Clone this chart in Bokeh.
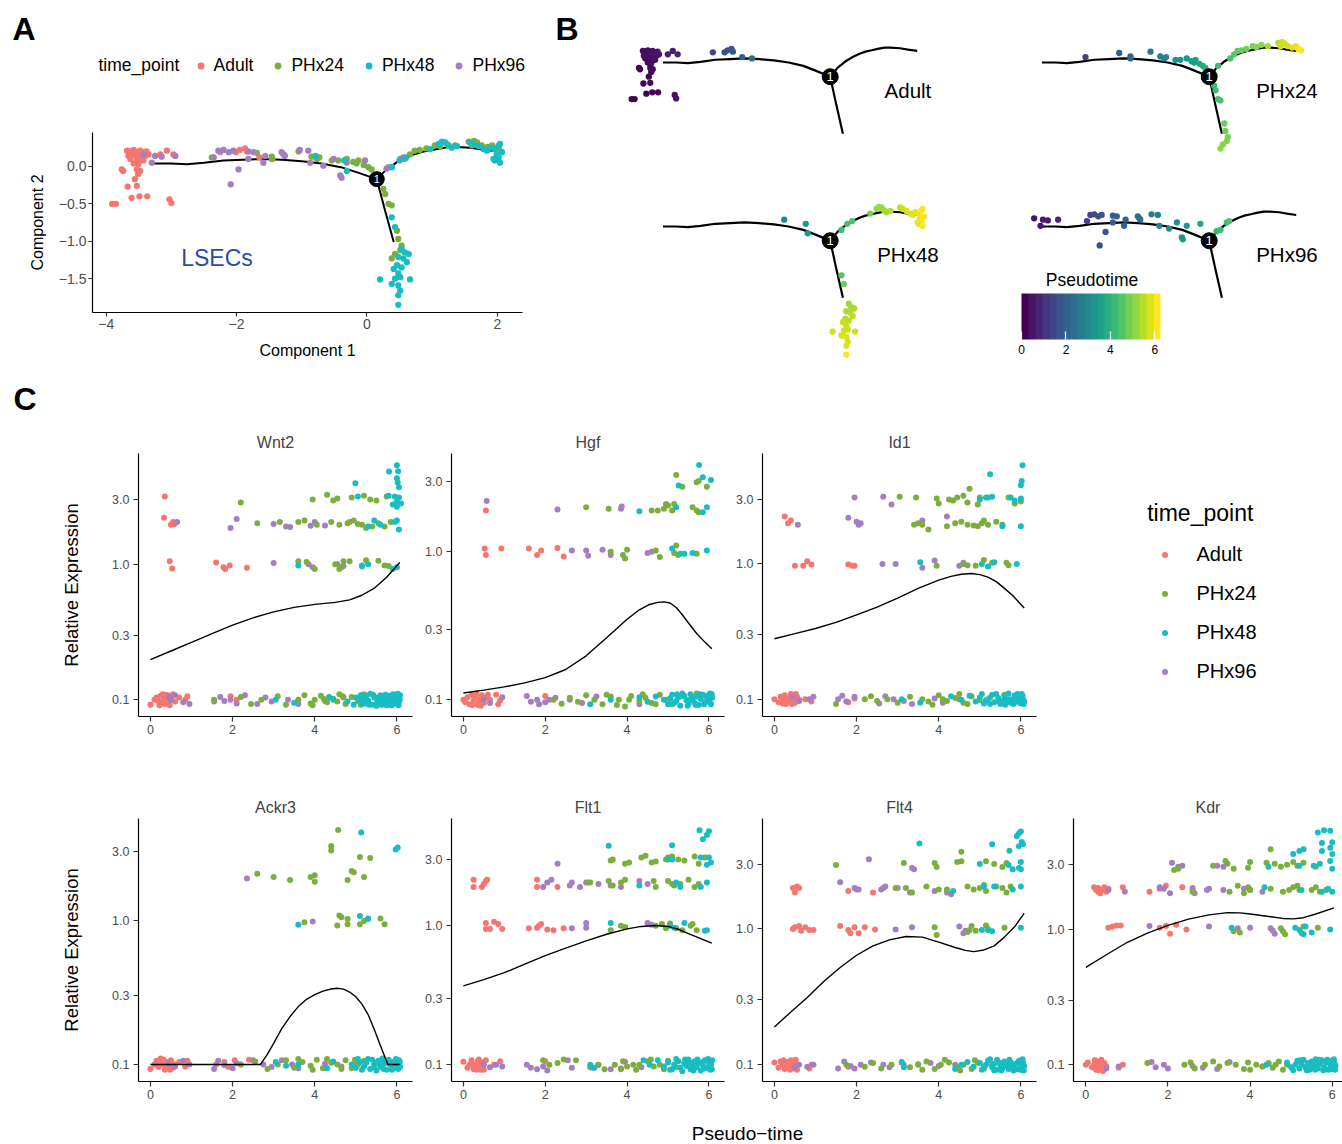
from bokeh.plotting import figure
from bokeh.models import (ColumnDataSource, Range1d, Label, Legend, LegendItem, ColorBar,
                          LinearColorMapper, FixedTicker, CustomJSTickFormatter)
from bokeh.layouts import row, column
from bokeh.palettes import Viridis256, viridis
from bokeh.transform import linear_cmap
from bokeh.core.properties import value
from bokeh.embed import file_html
from bokeh.resources import INLINE

FONT = "Liberation Sans"
TIME_POINTS = ["Adult", "PHx24", "PHx48", "PHx96"]
TP_COLORS = {"Adult": "#F5766F", "PHx24": "#7BAE3C", "PHx48": "#17BDC3", "PHx96": "#A57EC2"}

# ---------------------------------------------------------------------------
# Panel A/B: cells in the reduced space (component 1, component 2, pseudotime)
# ---------------------------------------------------------------------------
CELLS_ADULT = [
    (-3.68, 0.21, 0.20), (-3.63, 0.20, 0.22), (-3.58, 0.22, 0.25), (-3.53, 0.19, 0.27), (-3.48, 0.21, 0.30),
    (-3.43, 0.19, 0.33), (-3.38, 0.20, 0.36), (-3.66, 0.14, 0.18), (-3.61, 0.15, 0.22), (-3.56, 0.16, 0.25),
    (-3.51, 0.13, 0.28), (-3.45, 0.15, 0.31), (-3.40, 0.14, 0.34), (-3.35, 0.16, 0.37), (-3.63, 0.10, 0.16),
    (-3.53, 0.10, 0.22), (-3.48, 0.08, 0.24), (-3.43, 0.08, 0.27), (-3.58, 0.04, 0.15), (-3.51, 0.03, 0.18),
    (-3.76, -0.04, 0.10), (-3.74, -0.06, 0.10), (-3.53, -0.04, 0.14), (-3.48, -0.06, 0.15), (-3.51, -0.10, 0.12),
    (-3.56, -0.17, 0.10), (-3.53, -0.26, 0.08), (-3.67, -0.27, 0.06), (-3.61, -0.42, 0.05), (-3.49, -0.40, 0.06),
    (-3.37, -0.40, 0.08), (-3.91, -0.50, 0.00), (-3.85, -0.50, 0.02), (-3.03, -0.44, 0.30), (-3.00, -0.49, 0.32),
    (-3.07, 0.21, 0.55), (-2.97, 0.16, 0.62), (-3.17, 0.16, 0.48), (-2.25, 0.19, 1.30), (-2.01, 0.19, 1.55),
    (-1.95, 0.22, 1.60), (-1.87, 0.24, 1.68), (-1.84, 0.20, 1.72), (-1.65, 0.12, 1.95), (-1.45, 0.10, 2.15),
]
CELLS_PHX24 = [
    (-2.38, 0.12, 1.2), (-1.69, 0.18, 1.9), (-1.46, 0.13, 2.1), (-1.46, 0.10, 2.1), (-1.05, 0.20, 2.5),
    (-0.85, 0.13, 2.7), (-0.77, 0.10, 2.8), (-0.73, 0.12, 2.9), (-0.54, 0.08, 3.1), (-0.44, 0.08, 3.2),
    (-0.31, 0.10, 3.3), (-0.21, 0.06, 3.5), (-0.16, 0.04, 3.5), (-0.13, 0.08, 3.6), (-0.05, 0.02, 3.7),
    (0.02, -0.01, 3.8), (0.07, -0.04, 3.9), (0.25, -0.30, 4.2), (0.28, -0.37, 4.3), (0.33, -0.50, 4.4),
    (0.38, -0.52, 4.5), (0.46, -0.86, 4.8), (0.48, -0.97, 4.9), (0.53, -1.06, 5.0), (0.43, -1.17, 5.1),
    (0.38, -1.23, 5.2), (0.51, -1.12, 5.1), (0.33, -0.01, 4.3), (0.58, 0.10, 4.5), (0.66, 0.16, 4.6),
    (0.73, 0.21, 4.7), (0.81, 0.22, 4.8), (0.91, 0.24, 4.9), (1.04, 0.28, 5.0), (1.12, 0.27, 5.1),
    (1.22, 0.30, 5.2), (1.35, 0.28, 5.4), (1.56, 0.33, 5.6), (1.64, 0.34, 5.7), (1.61, 0.28, 5.7),
    (1.69, 0.32, 5.8), (1.76, 0.28, 5.8), (1.85, 0.26, 6.0), (1.92, 0.28, 6.0), (1.97, 0.24, 6.1),
    (2.03, 0.22, 6.2),
]
CELLS_PHX48 = [
    (-0.79, 0.14, 2.9), (-0.35, 0.08, 3.3), (-0.31, -0.06, 3.3), (0.38, -0.01, 4.3), (0.50, 0.08, 4.4),
    (0.60, 0.12, 4.5), (0.38, -0.68, 4.6), (0.43, -0.81, 4.8), (0.53, -1.10, 5.3), (0.58, -1.15, 5.4),
    (0.64, -1.17, 5.4), (0.48, -1.21, 5.5), (0.56, -1.23, 5.5), (0.61, -1.28, 5.6), (0.46, -1.32, 5.6),
    (0.53, -1.35, 5.6), (0.41, -1.37, 5.7), (0.48, -1.43, 5.7), (0.43, -1.50, 5.8), (0.51, -1.48, 5.8),
    (0.20, -1.51, 5.8), (0.66, -1.51, 5.8), (0.38, -1.57, 5.9), (0.48, -1.59, 5.9), (0.51, -1.66, 5.9),
    (0.48, -1.72, 6.0), (0.48, -1.85, 6.2), (0.97, 0.23, 5.0), (1.10, 0.30, 5.2), (1.15, 0.33, 5.3),
    (1.20, 0.32, 5.3), (1.25, 0.28, 5.4), (1.30, 0.25, 5.4), (1.38, 0.27, 5.5), (1.58, 0.32, 5.7),
    (1.63, 0.30, 5.8), (1.71, 0.27, 5.9), (1.79, 0.23, 5.9), (1.84, 0.21, 6.0), (1.89, 0.25, 6.0),
    (1.96, 0.23, 6.1), (2.02, 0.28, 6.2), (2.04, 0.30, 6.2), (1.99, 0.16, 6.1), (2.02, 0.12, 6.2),
    (1.96, 0.08, 6.1), (2.04, 0.05, 6.2), (2.07, 0.19, 6.2), (1.94, 0.10, 6.1),
]
CELLS_PHX96 = [
    (-3.43, 0.16, 0.25), (-3.25, 0.14, 0.40), (-3.15, 0.13, 0.50), (-2.94, 0.14, 0.70), (-3.30, 0.05, 0.35),
    (-2.35, 0.12, 1.2), (-2.28, 0.21, 1.3), (-2.20, 0.22, 1.4), (-2.12, 0.19, 1.5), (-2.05, 0.21, 1.6),
    (-1.97, -0.04, 1.6), (-2.09, -0.24, 1.5), (-1.82, 0.20, 1.8), (-1.74, 0.19, 1.9), (-1.82, 0.10, 1.8),
    (-1.59, 0.05, 2.0), (-1.56, 0.14, 2.0), (-1.31, 0.19, 2.3), (-1.28, 0.16, 2.3), (-1.26, 0.14, 2.3),
    (-1.03, 0.22, 2.6), (-0.90, 0.21, 2.7), (-0.87, 0.05, 2.8), (-0.67, 0.01, 3.0), (-0.51, 0.10, 3.1),
    (-0.41, -0.12, 3.2), (-0.39, -0.15, 3.3), (-0.31, 0.05, 3.3), (-0.03, 0.08, 3.7), (0.30, -0.03, 4.2),
    (0.38, -0.01, 4.3), (0.51, 0.10, 4.4), (0.56, 0.12, 4.5),
]

# principal graph: stem, upper branch, lower branch, and the branch point
TRAJ_STEM_X = [-3.27, -3.0, -2.76, -2.5, -2.2, -1.9, -1.6, -1.3, -1.0, -0.7, -0.4, -0.15, 0.15]
TRAJ_STEM_Y = [0.04, 0.04, 0.03, 0.05, 0.08, 0.09, 0.10, 0.09, 0.07, 0.04, -0.01, -0.08, -0.17]
TRAJ_UP_X = [0.15, 0.30, 0.45, 0.61, 0.75, 0.87, 1.0, 1.12, 1.26, 1.38, 1.58, 1.74, 1.93]
TRAJ_UP_Y = [-0.17, -0.04, 0.05, 0.12, 0.17, 0.20, 0.22, 0.24, 0.26, 0.26, 0.25, 0.23, 0.21]
TRAJ_LOW_X = [0.15, 0.28, 0.41]
TRAJ_LOW_Y = [-0.17, -0.60, -1.01]
BRANCH_X = [0.15]
BRANCH_Y = [-0.17]
BRANCH_ID = ["1"]

# ---------------------------------------------------------------------------
# Panel C: relative expression along pseudotime (pseudotime, expression)
# ---------------------------------------------------------------------------
WNT2_ADULT = [
    (0.35, 3.15), (0.33, 2.2), (0.5, 1.95), (0.55, 2.05), (0.58, 1.97), (0.47, 1.05), (0.53, 0.93),
    (1.6, 1.03), (1.78, 0.95), (1.82, 0.92), (1.93, 0.98), (2.35, 0.94), (0.0, 0.092), (0.1, 0.1),
    (0.15, 0.104), (0.2, 0.097), (0.25, 0.107), (0.28, 0.094), (0.3, 0.11), (0.33, 0.1), (0.35, 0.093),
    (0.38, 0.105), (0.4, 0.099), (0.42, 0.108), (0.45, 0.095), (0.5, 0.102), (0.55, 0.11), (0.6, 0.097),
    (0.7, 0.104), (0.85, 0.1), (0.9, 0.106), (1.95, 0.106), (2.1, 0.1),
    (0.22, 0.091), (0.32, 0.097), (0.37, 0.109), (0.47, 0.091), (0.52, 0.106),
]
WNT2_PHX24 = [
    (2.2, 2.85), (3.95, 3.0), (4.3, 3.25), (4.45, 2.95), (4.55, 3.05), (4.9, 3.1), (5.2, 3.2), (5.35, 3.0),
    (5.5, 2.95), (5.75, 3.15), (2.6, 2.0), (3.15, 2.05), (3.6, 2.05), (3.75, 2.1), (4.05, 1.95), (4.4, 2.05),
    (4.6, 1.95), (4.8, 2.0), (4.85, 2.05), (4.95, 2.1), (5.05, 1.98), (5.15, 1.95), (5.25, 1.85), (5.4, 1.9),
    (5.55, 2.0), (5.7, 1.9), (5.85, 2.05), (3.6, 1.05), (3.8, 1.04), (4.0, 0.92), (4.5, 1.0), (4.6, 0.92),
    (4.65, 0.95), (4.7, 1.05), (4.85, 1.05), (5.15, 0.98), (5.25, 1.07), (5.55, 1.06), (5.7, 0.98),
    (5.8, 0.97), (1.55, 0.1), (2.2, 0.105), (2.45, 0.093), (2.7, 0.1), (3.1, 0.106), (3.3, 0.092),
    (3.6, 0.1), (3.75, 0.108), (3.9, 0.094), (4.0, 0.1), (4.15, 0.107), (4.3, 0.096), (4.45, 0.102),
    (4.6, 0.11), (4.75, 0.093), (4.9, 0.105), (5.05, 0.098), (5.2, 0.11), (5.3, 0.095), (5.5, 0.104),
    (5.65, 0.092), (5.8, 0.107), (3.95, 0.091), (4.22, 0.102), (4.55, 0.097), (4.68, 0.106), (5.12, 0.092),
]
WNT2_PHX48 = [
    (4.99, 3.96), (5.81, 4.82), (6.0, 5.37), (6.03, 4.85), (6.0, 4.3), (6.02, 4.0), (6.05, 3.7),
    (5.05, 3.15), (5.8, 3.2), (5.95, 3.15), (6.0, 2.9), (6.05, 3.1), (6.1, 2.8), (5.9, 2.75), (6.0, 2.65),
    (5.3, 1.9), (5.45, 2.1), (5.6, 1.95), (6.0, 2.1), (6.05, 1.8), (5.95, 2.05), (3.6, 0.98), (5.15, 0.96),
    (5.3, 1.0), (5.9, 0.92), (6.0, 0.95), (3.05, 0.1), (3.5, 0.095), (4.35, 0.105), (4.45, 0.1),
    (4.8, 0.097), (4.95, 0.092), (5.0, 0.104), (5.1, 0.1), (5.15, 0.093), (5.2, 0.102), (5.25, 0.107),
    (5.3, 0.099), (5.35, 0.111), (5.4, 0.092), (5.45, 0.104), (5.5, 0.09), (5.55, 0.1), (5.6, 0.108),
    (5.65, 0.095), (5.7, 0.102), (5.75, 0.091), (5.8, 0.106), (5.85, 0.099), (5.88, 0.091), (5.9, 0.11),
    (5.95, 0.094), (6.0, 0.103), (6.02, 0.111), (6.05, 0.097), (6.08, 0.108),
    (5.12, 0.108), (5.22, 0.094), (5.32, 0.092), (5.42, 0.109), (5.52, 0.097), (5.62, 0.092),
    (5.72, 0.109), (5.78, 0.098), (5.83, 0.092), (5.92, 0.101), (5.98, 0.109), (6.04, 0.091),
    (6.07, 0.1), (5.58, 0.103), (5.68, 0.097),
]
WNT2_PHX96 = [
    (0.65, 2.05), (1.95, 1.85), (2.1, 2.15), (3.0, 1.98), (3.3, 1.9), (3.4, 1.88), (3.9, 1.92), (4.0, 2.05),
    (4.25, 1.93), (3.0, 1.02), (3.85, 1.0), (3.95, 0.95), (4.55, 1.0), (4.7, 0.97), (0.45, 0.105),
    (0.5, 0.1), (0.6, 0.108), (0.8, 0.096), (0.95, 0.093), (1.55, 0.097), (1.7, 0.105), (1.8, 0.098),
    (1.95, 0.1), (2.1, 0.094), (2.3, 0.108), (2.6, 0.093), (2.8, 0.104), (2.95, 0.097), (3.35, 0.1),
    (3.6, 0.093), (4.25, 0.098), (4.7, 0.104), (5.1, 0.1),
]
WNT2_FIT = [(0.0, 0.198), (0.5, 0.229), (1.0, 0.265), (1.5, 0.308), (2.0, 0.355), (2.5, 0.402), (3.0, 0.445),
            (3.5, 0.48), (4.0, 0.505), (4.5, 0.523), (4.85, 0.545), (5.15, 0.59), (5.45, 0.665), (5.75, 0.8),
            (6.07, 1.03)]

HGF_ADULT = [
    (0.55, 1.9), (0.52, 1.05), (0.55, 0.95), (0.93, 1.05), (1.6, 1.05), (1.8, 0.95), (1.9, 1.02),
    (2.3, 1.06), (2.45, 0.93), (0.0, 0.1), (0.05, 0.096), (0.1, 0.104), (0.15, 0.093), (0.2, 0.108),
    (0.25, 0.099), (0.3, 0.105), (0.35, 0.092), (0.4, 0.1), (0.45, 0.107), (0.5, 0.095), (0.55, 0.104),
    (0.65, 0.1), (0.8, 0.108), (0.85, 0.093), (0.9, 0.099), (2.0, 0.106),
    (0.22, 0.092), (0.32, 0.11), (0.38, 0.096), (0.42, 0.091), (0.6, 0.108),
]
HGF_PHX24 = [
    (5.2, 3.3), (5.35, 2.75), (5.7, 2.95), (5.75, 3.0), (5.95, 2.75), (3.0, 2.0), (3.55, 1.95), (4.6, 1.9),
    (4.75, 1.9), (4.9, 1.95), (4.95, 2.1), (5.0, 2.05), (5.1, 1.9), (5.15, 2.1), (5.6, 2.0), (5.7, 1.9),
    (5.75, 1.85), (3.6, 1.0), (3.9, 0.95), (3.95, 0.9), (4.0, 1.03), (4.7, 1.02), (4.8, 0.92), (5.15, 0.98),
    (5.2, 1.1), (5.25, 0.95), (5.7, 0.97), (2.2, 0.1), (2.4, 0.094), (2.6, 0.103), (2.8, 0.097),
    (3.0, 0.107), (3.2, 0.1), (3.4, 0.093), (3.6, 0.105), (3.8, 0.1), (3.95, 0.09), (4.1, 0.106),
    (4.3, 0.098), (4.45, 0.103), (4.6, 0.095), (4.8, 0.108), (4.95, 0.1), (5.1, 0.093), (5.3, 0.105),
    (5.5, 0.099), (5.7, 0.11), (3.5, 0.108), (3.75, 0.092), (4.05, 0.1), (4.38, 0.109), (4.7, 0.093),
]
HGF_PHX48 = [
    (5.76, 3.85), (5.85, 3.18), (6.05, 3.05), (5.26, 2.8), (4.3, 1.88), (5.2, 2.0), (5.85, 1.85),
    (5.95, 2.0), (5.1, 1.05), (5.3, 0.97), (5.4, 0.97), (5.6, 0.98), (5.95, 1.02), (3.1, 0.093), (3.6, 0.1),
    (4.3, 0.104), (4.5, 0.097), (4.7, 0.105), (4.9, 0.1), (5.0, 0.093), (5.1, 0.108), (5.2, 0.098),
    (5.25, 0.104), (5.3, 0.091), (5.4, 0.106), (5.45, 0.099), (5.5, 0.094), (5.55, 0.109), (5.6, 0.1),
    (5.65, 0.095), (5.7, 0.105), (5.75, 0.092), (5.8, 0.101), (5.85, 0.108), (5.9, 0.096), (5.95, 0.104),
    (6.0, 0.099), (6.03, 0.11), (6.05, 0.093), (6.08, 0.103),
    (5.05, 0.102), (5.15, 0.095), (5.35, 0.11), (5.48, 0.091), (5.58, 0.104), (5.68, 0.092),
    (5.78, 0.109), (5.88, 0.093), (5.98, 0.107), (6.02, 0.096), (6.07, 0.109), (5.22, 0.109),
]
HGF_PHX96 = [
    (0.57, 2.2), (2.3, 1.93), (3.85, 1.95), (3.87, 2.02), (2.65, 1.02), (3.0, 1.02), (3.05, 0.94),
    (3.4, 1.03), (3.6, 0.95), (4.5, 0.98), (4.6, 1.0), (0.5, 0.1), (0.65, 0.095), (0.95, 0.104),
    (1.55, 0.106), (1.65, 0.097), (1.8, 0.1), (1.85, 0.093), (2.0, 0.096), (2.1, 0.1), (2.25, 0.103),
    (2.6, 0.1), (2.9, 0.095), (3.25, 0.105), (4.3, 0.093), (5.0, 0.1),
]
HGF_FIT = [(0.0, 0.111), (0.5, 0.116), (1.0, 0.122), (1.5, 0.13), (2.0, 0.141), (2.5, 0.16), (3.0, 0.198),
           (3.5, 0.262), (4.0, 0.35), (4.3, 0.405), (4.55, 0.44), (4.75, 0.455), (4.9, 0.458), (5.05, 0.45),
           (5.2, 0.42), (5.35, 0.375), (5.5, 0.33), (5.7, 0.28), (5.9, 0.245), (6.07, 0.221)]

ID1_ADULT = [
    (0.25, 2.25), (0.33, 2.0), (0.4, 2.1), (0.5, 0.97), (0.7, 0.97), (0.8, 1.05), (0.9, 0.99), (1.8, 0.99),
    (1.9, 0.97), (1.95, 0.97), (0.0, 0.1), (0.1, 0.095), (0.15, 0.104), (0.2, 0.093), (0.25, 0.107),
    (0.3, 0.1), (0.35, 0.096), (0.4, 0.109), (0.45, 0.1), (0.5, 0.094), (0.55, 0.104), (0.6, 0.099),
    (0.75, 0.1), (0.9, 0.096), (1.8, 0.095), (1.95, 0.101),
    (0.22, 0.1), (0.28, 0.092), (0.38, 0.104), (0.43, 0.092), (0.52, 0.109),
]
ID1_PHX24 = [
    (3.05, 3.15), (3.45, 3.1), (3.95, 3.05), (4.0, 2.8), (4.25, 3.0), (4.35, 2.95), (4.45, 3.1), (4.6, 3.2),
    (4.7, 2.85), (4.75, 3.6), (4.95, 2.75), (5.0, 3.1), (5.2, 3.1), (5.7, 3.1), (5.85, 2.8), (6.0, 2.9),
    (3.4, 1.95), (3.5, 2.0), (3.6, 1.95), (3.75, 1.8), (4.2, 1.9), (4.4, 2.0), (4.55, 2.05), (4.7, 1.95),
    (4.85, 1.93), (4.95, 1.9), (5.05, 2.0), (5.1, 2.1), (5.2, 1.95), (5.4, 2.05), (5.55, 1.95),
    (3.95, 0.97), (4.6, 1.0), (4.7, 0.98), (4.9, 0.97), (5.1, 1.07), (5.3, 1.02), (5.65, 1.02), (5.7, 0.98),
    (1.5, 0.092), (2.2, 0.1), (2.35, 0.105), (2.5, 0.097), (2.75, 0.1), (3.0, 0.094), (3.3, 0.104),
    (3.6, 0.1), (3.75, 0.096), (4.0, 0.107), (4.2, 0.097), (4.4, 0.102), (4.6, 0.094), (4.8, 0.105),
    (5.0, 0.098), (5.25, 0.103), (5.45, 0.096), (5.6, 0.108), (3.85, 0.091), (4.1, 0.1), (4.5, 0.109),
    (4.7, 0.092),
]
ID1_PHX48 = [
    (5.25, 4.61), (6.04, 5.38), (6.02, 4.12), (6.0, 3.83), (5.0, 3.0), (5.15, 3.1), (5.3, 3.15),
    (5.75, 3.1), (5.85, 2.95), (6.0, 3.05), (5.55, 1.9), (6.0, 1.9), (3.55, 1.03), (5.05, 1.0), (5.2, 0.96),
    (5.35, 1.03), (5.9, 1.0), (3.1, 0.1), (3.55, 0.094), (4.3, 0.105), (4.55, 0.099), (4.75, 0.106),
    (4.9, 0.096), (5.0, 0.103), (5.1, 0.093), (5.2, 0.1), (5.3, 0.108), (5.35, 0.095), (5.45, 0.102),
    (5.5, 0.092), (5.6, 0.105), (5.65, 0.098), (5.7, 0.11), (5.75, 0.094), (5.8, 0.1), (5.85, 0.107),
    (5.9, 0.097), (5.95, 0.103), (6.0, 0.093), (6.02, 0.109), (6.05, 0.1), (6.08, 0.096),
    (5.05, 0.109), (5.15, 0.098), (5.25, 0.092), (5.4, 0.109), (5.55, 0.097), (5.62, 0.091),
    (5.72, 0.1), (5.82, 0.092), (5.92, 0.109), (5.97, 0.094), (6.04, 0.106), (6.07, 0.092),
]
ID1_PHX96 = [
    (1.95, 3.1), (2.65, 3.15), (2.85, 2.75), (0.57, 1.95), (1.8, 2.2), (2.0, 2.05), (2.05, 1.95), (2.1, 2.0),
    (3.6, 2.1), (4.2, 2.25), (2.63, 1.0), (2.95, 1.0), (3.6, 0.94), (3.9, 1.06), (4.5, 0.97), (4.6, 1.02),
    (0.45, 0.104), (0.6, 0.097), (0.85, 0.1), (0.95, 0.104), (1.55, 0.1), (1.65, 0.106), (1.75, 0.096),
    (1.95, 0.104), (2.55, 0.093), (2.7, 0.105), (2.9, 0.1), (3.15, 0.097), (3.35, 0.092), (3.9, 0.101),
    (4.1, 0.094), (4.5, 0.1),
]
ID1_FIT = [(0.0, 0.28), (0.5, 0.305), (1.0, 0.333), (1.5, 0.37), (2.0, 0.42), (2.5, 0.48), (3.0, 0.56),
           (3.5, 0.66), (4.0, 0.76), (4.3, 0.81), (4.55, 0.84), (4.8, 0.85), (5.0, 0.835), (5.2, 0.8),
           (5.4, 0.74), (5.6, 0.66), (5.8, 0.585), (6.08, 0.472)]

ACKR3_ADULT = [
    (0.0, 0.093), (0.1, 0.1), (0.15, 0.106), (0.2, 0.096), (0.25, 0.11), (0.3, 0.1), (0.35, 0.092),
    (0.4, 0.104), (0.45, 0.098), (0.5, 0.107), (0.55, 0.095), (0.6, 0.1), (0.7, 0.104), (0.85, 0.097),
    (0.9, 0.106), (1.6, 0.1), (1.8, 0.104), (1.9, 0.096), (2.05, 0.107), (2.2, 0.1), (2.4, 0.108),
    (0.22, 0.103), (0.32, 0.108), (0.38, 0.094), (0.48, 0.092), (0.52, 0.102),
]
ACKR3_PHX24 = [
    (4.57, 4.22), (4.4, 3.28), (4.4, 3.05), (5.1, 2.75), (5.35, 2.7), (2.6, 2.1), (3.0, 2.0), (3.4, 1.9),
    (3.9, 2.0), (4.0, 2.05), (4.0, 1.85), (4.8, 1.9), (4.9, 2.2), (4.95, 2.15), (5.2, 2.0), (3.75, 0.97),
    (4.55, 0.92), (4.6, 1.08), (4.65, 1.05), (4.8, 1.02), (4.8, 0.94), (5.1, 0.94), (5.2, 0.99),
    (5.3, 1.02), (5.6, 1.03), (5.7, 0.94), (2.2, 0.1), (2.55, 0.105), (2.85, 0.093), (3.1, 0.1),
    (3.3, 0.107), (3.5, 0.095), (3.7, 0.104), (3.9, 0.098), (4.05, 0.108), (4.2, 0.094), (4.4, 0.103),
    (4.55, 0.1), (4.75, 0.107), (4.9, 0.094), (5.05, 0.1), (5.2, 0.106), (5.45, 0.096), (5.65, 0.104),
    (5.9, 0.1), (3.6, 0.109), (3.95, 0.092), (4.3, 0.109), (4.65, 0.093), (4.98, 0.108),
]
ACKR3_PHX48 = [
    (5.13, 4.06), (5.97, 3.1), (6.02, 3.2), (3.6, 0.93), (5.1, 1.07), (5.3, 1.03), (3.05, 0.104),
    (3.3, 0.098), (3.6, 0.1), (4.3, 0.094), (4.45, 0.105), (4.9, 0.1), (5.0, 0.095), (5.1, 0.104),
    (5.2, 0.097), (5.25, 0.103), (5.3, 0.109), (5.35, 0.093), (5.45, 0.1), (5.5, 0.091), (5.55, 0.106),
    (5.6, 0.096), (5.65, 0.11), (5.7, 0.102), (5.75, 0.092), (5.8, 0.108), (5.85, 0.099), (5.9, 0.104),
    (5.95, 0.094), (6.0, 0.1), (6.05, 0.107), (6.08, 0.096),
    (5.05, 0.109), (5.15, 0.092), (5.4, 0.108), (5.58, 0.101), (5.68, 0.093), (5.78, 0.102),
    (5.88, 0.092), (5.98, 0.109), (6.03, 0.093), (6.07, 0.104), (5.92, 0.098), (5.48, 0.103),
]
ACKR3_PHX96 = [
    (2.35, 1.95), (3.95, 0.98), (0.45, 0.101), (0.6, 0.097), (0.8, 0.106), (0.95, 0.1), (1.55, 0.093),
    (1.65, 0.106), (1.8, 0.099), (2.0, 0.094), (2.1, 0.102), (2.5, 0.107), (2.75, 0.1), (2.95, 0.096),
    (3.2, 0.107), (3.45, 0.1), (3.6, 0.094), (4.25, 0.101), (4.65, 0.097), (5.0, 0.1),
]
ACKR3_FIT = [(0.0, 0.1), (2.68, 0.1), (2.85, 0.118), (3.0, 0.14), (3.2, 0.178), (3.4, 0.215), (3.6, 0.252),
             (3.8, 0.283), (4.0, 0.305), (4.2, 0.323), (4.4, 0.334), (4.55, 0.338), (4.7, 0.333),
             (4.85, 0.318), (5.0, 0.295), (5.15, 0.262), (5.3, 0.222), (5.45, 0.175), (5.6, 0.135),
             (5.78, 0.1), (6.07, 0.1)]

FLT1_ADULT = [
    (0.25, 2.15), (0.25, 1.9), (0.45, 1.9), (0.5, 2.0), (0.55, 2.1), (0.58, 2.15), (1.8, 2.15), (1.8, 1.9),
    (2.3, 1.9), (0.55, 1.05), (0.55, 0.95), (0.65, 0.95), (0.75, 1.07), (0.85, 1.03), (0.95, 0.95),
    (1.6, 0.96), (1.8, 0.97), (1.85, 1.0), (1.9, 1.03), (2.05, 0.94), (2.2, 0.93), (2.45, 0.96),
    (0.0, 0.105), (0.1, 0.095), (0.15, 0.1), (0.2, 0.108), (0.25, 0.093), (0.3, 0.1), (0.35, 0.106),
    (0.4, 0.097), (0.45, 0.104), (0.5, 0.092), (0.55, 0.108), (0.75, 0.1), (0.9, 0.106), (2.0, 0.106),
    (0.22, 0.1), (0.32, 0.092), (0.38, 0.109), (0.42, 0.092), (0.48, 0.1),
]
FLT1_PHX24 = [
    (3.6, 2.95), (3.65, 3.0), (3.95, 2.8), (4.05, 2.85), (4.35, 3.1), (4.45, 3.2), (4.6, 2.85), (4.7, 2.9),
    (4.95, 3.0), (5.0, 3.1), (5.1, 3.15), (5.25, 3.0), (5.4, 2.95), (5.65, 3.15), (5.75, 2.8), (5.9, 3.1),
    (3.05, 2.05), (3.1, 2.05), (3.55, 2.1), (3.65, 1.95), (3.85, 2.05), (3.95, 2.15), (4.65, 2.1),
    (4.7, 1.9), (5.0, 2.1), (5.1, 2.0), (5.15, 1.95), (5.3, 2.0), (5.5, 2.15), (5.65, 1.9), (5.75, 2.0),
    (3.6, 0.93), (3.85, 1.0), (3.95, 0.98), (4.7, 1.0), (4.85, 1.03), (4.95, 0.96), (5.05, 1.04),
    (5.2, 0.96), (5.35, 0.93), (5.55, 1.0), (5.6, 1.03), (5.7, 0.93), (1.95, 0.108), (2.1, 0.1),
    (2.3, 0.103), (2.45, 0.109), (2.75, 0.108), (3.1, 0.096), (3.3, 0.1), (3.45, 0.093), (3.7, 0.1),
    (3.85, 0.093), (4.0, 0.097), (4.15, 0.1), (4.3, 0.1), (4.5, 0.106), (4.65, 0.097), (4.8, 0.1),
    (5.0, 0.107), (5.2, 0.096), (5.4, 0.103), (5.6, 0.099), (3.9, 0.106), (4.22, 0.092), (4.58, 0.109),
    (4.9, 0.093),
]
FLT1_PHX48 = [
    (3.55, 3.77), (5.1, 3.8), (5.77, 4.88), (6.0, 4.8), (5.85, 4.2), (5.95, 4.5), (5.0, 3.0), (5.1, 3.0),
    (5.8, 3.1), (5.95, 2.75), (6.0, 3.1), (6.05, 2.85), (4.3, 1.95), (5.2, 2.05), (5.3, 1.9), (5.8, 1.9),
    (5.95, 2.05), (3.6, 1.05), (5.05, 1.0), (5.15, 0.97), (5.4, 1.05), (5.9, 0.92), (5.95, 0.93),
    (3.1, 0.1), (3.2, 0.095), (4.4, 0.108), (4.55, 0.1), (4.75, 0.108), (4.9, 0.097), (5.0, 0.104),
    (5.1, 0.093), (5.15, 0.1), (5.25, 0.106), (5.3, 0.095), (5.4, 0.103), (5.45, 0.098), (5.5, 0.109),
    (5.55, 0.093), (5.6, 0.1), (5.65, 0.106), (5.7, 0.096), (5.75, 0.103), (5.8, 0.091), (5.85, 0.1),
    (5.9, 0.108), (5.95, 0.095), (6.0, 0.104), (6.03, 0.092), (6.05, 0.1), (6.08, 0.108),
    (5.05, 0.092), (5.2, 0.11), (5.35, 0.09), (5.52, 0.104), (5.62, 0.091), (5.72, 0.109),
    (5.82, 0.104), (5.88, 0.094), (5.98, 0.11), (6.02, 0.1), (6.07, 0.093), (5.42, 0.109),
]
FLT1_PHX96 = [
    (2.3, 2.8), (1.95, 1.9), (2.05, 2.05), (2.15, 2.15), (2.6, 1.95), (2.65, 2.05), (2.85, 1.9), (3.0, 2.05),
    (3.3, 2.0), (3.6, 1.95), (3.85, 1.9), (4.3, 2.1), (4.5, 2.0), (2.65, 0.96), (3.0, 1.05), (3.0, 0.97),
    (4.5, 1.05), (4.6, 1.02), (0.5, 0.1), (0.65, 0.096), (0.8, 0.1), (0.95, 0.097), (1.55, 0.1),
    (1.65, 0.095), (1.8, 0.093), (1.95, 0.097), (2.05, 0.091), (2.55, 0.108), (2.65, 0.095), (3.15, 0.095),
    (3.3, 0.1), (3.6, 0.093), (3.85, 0.094), (3.95, 0.105), (4.35, 0.096),
]
FLT1_FIT = [(0.0, 0.37), (0.5, 0.41), (1.0, 0.46), (1.5, 0.53), (2.0, 0.61), (2.5, 0.69), (3.0, 0.78),
            (3.5, 0.87), (4.0, 0.95), (4.35, 0.99), (4.7, 1.005), (5.0, 0.99), (5.25, 0.945), (5.5, 0.88),
            (5.8, 0.81), (6.07, 0.75)]

FLT4_ADULT = [
    (0.45, 2.0), (0.5, 1.85), (0.55, 2.05), (0.6, 2.0), (1.8, 1.9), (2.4, 1.85), (0.45, 1.0), (0.5, 1.03),
    (0.6, 1.05), (0.65, 0.97), (0.75, 1.03), (0.85, 0.98), (0.95, 0.98), (1.6, 1.05), (1.8, 0.98),
    (1.85, 0.93), (1.95, 1.03), (2.05, 0.93), (2.2, 1.03), (2.45, 0.99), (0.0, 0.104), (0.1, 0.095),
    (0.15, 0.106), (0.2, 0.1), (0.25, 0.093), (0.3, 0.105), (0.35, 0.1), (0.4, 0.108), (0.45, 0.094),
    (0.5, 0.102), (0.55, 0.092), (0.85, 0.094), (0.9, 0.1), (1.8, 0.097),
    (0.22, 0.108), (0.28, 0.098), (0.38, 0.092), (0.42, 0.103), (0.52, 0.109),
]
FLT4_PHX24 = [
    (1.5, 2.95), (3.15, 3.05), (3.9, 3.05), (3.95, 2.85), (4.45, 3.1), (4.55, 3.7), (4.55, 3.15),
    (5.15, 3.15), (5.35, 3.0), (5.55, 2.85), (5.65, 3.05), (2.95, 2.0), (3.2, 2.0), (3.35, 1.85),
    (3.7, 2.05), (4.0, 1.95), (4.2, 1.95), (4.7, 2.05), (4.85, 1.95), (5.0, 2.0), (5.1, 2.1), (5.15, 1.9),
    (5.4, 2.05), (5.55, 2.0), (5.65, 1.85), (5.75, 2.05), (3.9, 1.03), (3.95, 0.9), (4.7, 0.95),
    (4.75, 0.98), (4.8, 1.05), (4.9, 0.97), (5.15, 1.06), (5.2, 1.0), (5.6, 1.02), (1.75, 0.1),
    (2.2, 0.097), (2.4, 0.103), (2.6, 0.094), (2.85, 0.1), (3.1, 0.104), (3.3, 0.096), (3.5, 0.1),
    (3.7, 0.106), (3.9, 0.093), (4.05, 0.1), (4.25, 0.104), (4.45, 0.096), (4.6, 0.1), (4.8, 0.093),
    (4.95, 0.104), (5.1, 0.097), (5.3, 0.1), (5.5, 0.103), (5.7, 0.096), (3.6, 0.092), (4.15, 0.109),
    (4.52, 0.091), (4.88, 0.108),
]
FLT4_PHX48 = [
    (3.53, 4.25), (5.3, 4.2), (5.72, 3.76), (5.9, 4.8), (5.95, 5.05), (6.0, 5.2), (6.02, 4.35),
    (5.95, 4.05), (6.05, 4.2), (5.0, 3.0), (5.7, 2.95), (5.8, 2.75), (5.95, 2.8), (6.0, 3.1), (6.0, 2.75),
    (4.35, 1.9), (5.1, 2.05), (5.35, 2.05), (5.8, 1.95), (6.0, 2.05), (5.05, 0.98), (5.2, 0.98),
    (5.3, 0.96), (6.0, 1.02), (3.1, 0.105), (3.15, 0.096), (4.4, 0.093), (4.55, 0.1), (4.7, 0.105),
    (4.85, 0.097), (5.0, 0.103), (5.1, 0.094), (5.15, 0.1), (5.2, 0.107), (5.3, 0.096), (5.35, 0.102),
    (5.4, 0.092), (5.45, 0.105), (5.5, 0.099), (5.55, 0.094), (5.6, 0.106), (5.65, 0.1), (5.7, 0.093),
    (5.75, 0.104), (5.8, 0.097), (5.85, 0.101), (5.9, 0.093), (5.95, 0.107), (6.0, 0.1), (6.03, 0.095),
    (6.05, 0.105), (6.08, 0.098),
    (5.05, 0.092), (5.25, 0.11), (5.42, 0.109), (5.52, 0.091), (5.62, 0.098), (5.72, 0.109),
    (5.82, 0.091), (5.92, 0.104), (5.98, 0.092), (6.04, 0.11), (6.07, 0.091), (5.35, 0.091),
]
FLT4_PHX96 = [
    (2.3, 3.25), (3.35, 2.8), (3.4, 2.75), (1.6, 2.2), (1.95, 2.0), (2.0, 1.95), (2.05, 1.95), (2.6, 1.95),
    (2.65, 2.0), (2.7, 2.05), (3.0, 2.0), (3.3, 1.85), (3.9, 1.9), (4.2, 1.85), (4.3, 1.8), (2.95, 0.99),
    (3.35, 1.03), (4.5, 1.04), (4.6, 0.93), (4.65, 0.97), (0.5, 0.096), (0.6, 0.1), (0.8, 0.097),
    (0.95, 0.1), (1.55, 0.094), (1.7, 0.106), (1.85, 0.098), (1.95, 0.094), (2.1, 0.1), (2.35, 0.104),
    (2.65, 0.1), (2.8, 0.096), (3.15, 0.1), (3.5, 0.101), (3.8, 0.103), (4.0, 0.098), (4.4, 0.1),
]
FLT4_FIT = [(0.0, 0.19), (0.4, 0.245), (0.8, 0.313), (1.2, 0.41), (1.6, 0.52), (2.0, 0.64), (2.4, 0.75),
            (2.8, 0.83), (3.2, 0.88), (3.6, 0.87), (4.0, 0.8), (4.4, 0.73), (4.65, 0.695), (4.85, 0.68),
            (5.1, 0.7), (5.35, 0.75), (5.6, 0.87), (5.85, 1.04), (6.08, 1.3)]

KDR_ADULT = [
    (0.2, 2.05), (0.25, 1.95), (0.3, 1.9), (0.3, 2.02), (0.35, 1.85), (0.4, 1.95), (0.45, 2.05), (0.5, 1.9),
    (0.55, 2.0), (0.9, 2.05), (1.55, 1.9), (1.8, 2.0), (1.95, 2.1), (2.35, 2.05), (0.55, 1.03), (0.65, 1.05),
    (0.75, 1.07), (0.85, 1.07), (1.8, 1.03), (1.95, 1.06), (2.05, 0.93), (2.2, 1.08), (2.45, 1.0),
    (0.0, 0.1), (0.05, 0.104), (0.15, 0.096), (0.2, 0.1), (0.25, 0.092), (0.3, 0.106), (0.35, 0.099),
    (0.4, 0.093), (0.45, 0.103), (0.5, 0.097), (0.8, 0.095), (0.9, 0.1),
    (0.22, 0.108), (0.28, 0.097), (0.38, 0.109), (0.42, 0.09), (0.32, 0.091),
]
KDR_PHX24 = [
    (2.15, 2.75), (2.25, 2.8), (3.1, 2.95), (3.4, 3.2), (3.45, 3.05), (3.6, 2.8), (3.95, 2.85), (4.0, 3.15),
    (4.4, 3.1), (4.5, 3.9), (4.6, 3.05), (4.75, 2.9), (4.9, 3.0), (5.05, 3.15), (5.15, 2.95), (5.3, 3.1),
    (5.6, 2.9), (2.6, 1.9), (3.5, 1.9), (3.7, 2.1), (3.85, 1.85), (3.95, 2.05), (4.0, 1.95), (4.5, 2.0),
    (4.8, 1.9), (4.95, 1.95), (5.05, 2.05), (5.15, 2.1), (5.2, 1.95), (5.5, 1.95), (5.6, 2.05), (5.7, 1.9),
    (5.85, 1.95), (3.6, 0.97), (3.75, 0.95), (4.75, 1.02), (4.8, 0.97), (4.85, 0.92), (5.25, 0.94),
    (5.3, 1.05), (5.65, 1.03), (1.5, 0.103), (2.4, 0.1), (2.55, 0.104), (2.65, 0.094), (2.9, 0.1),
    (3.1, 0.106), (3.25, 0.097), (3.45, 0.103), (3.65, 0.1), (3.85, 0.093), (3.95, 0.104), (4.15, 0.1),
    (4.3, 0.097), (4.45, 0.103), (4.55, 0.095), (4.7, 0.106), (4.9, 0.1), (4.0, 0.092), (4.62, 0.1),
    (4.8, 0.092),
]
KDR_PHX48 = [
    (5.05, 3.6), (5.2, 3.8), (5.3, 3.9), (5.65, 5.2), (5.8, 5.4), (5.95, 5.35), (6.0, 4.4), (5.75, 4.35),
    (5.75, 3.8), (5.95, 4.0), (6.0, 3.6), (4.45, 2.9), (5.2, 2.95), (5.55, 2.95), (5.7, 3.05), (5.95, 3.2),
    (6.0, 2.8), (4.35, 2.05), (5.25, 1.95), (5.75, 1.9), (5.9, 2.0), (6.0, 1.9), (3.55, 1.03), (5.1, 1.03),
    (5.2, 0.99), (5.3, 0.92), (5.35, 1.05), (5.5, 0.95), (5.95, 1.0), (4.4, 0.1), (4.9, 0.104),
    (5.0, 0.096), (5.1, 0.1), (5.15, 0.107), (5.2, 0.094), (5.25, 0.101), (5.3, 0.109), (5.35, 0.096),
    (5.4, 0.103), (5.45, 0.092), (5.5, 0.106), (5.55, 0.099), (5.6, 0.11), (5.65, 0.094), (5.7, 0.102),
    (5.75, 0.108), (5.8, 0.096), (5.85, 0.104), (5.9, 0.092), (5.95, 0.1), (6.0, 0.107), (6.02, 0.095),
    (6.05, 0.103), (6.08, 0.099),
    (5.05, 0.091), (5.22, 0.108), (5.38, 0.091), (5.48, 0.1), (5.58, 0.092), (5.68, 0.109),
    (5.78, 0.091), (5.88, 0.109), (5.98, 0.093), (6.04, 0.11), (6.07, 0.092), (5.62, 0.101),
]
KDR_PHX96 = [
    (2.1, 3.1), (2.25, 2.9), (2.35, 2.95), (3.2, 2.95), (3.35, 2.9), (0.55, 1.95), (0.95, 1.9), (1.8, 2.05),
    (1.9, 2.0), (2.05, 1.85), (2.6, 1.95), (2.65, 1.85), (2.6, 2.02), (2.95, 1.95), (3.0, 2.0), (3.35, 1.95),
    (3.85, 2.0), (4.0, 1.95), (4.3, 1.9), (1.55, 1.06), (3.0, 1.05), (3.7, 1.02), (4.0, 1.03), (4.5, 1.02),
    (4.55, 0.98), (4.6, 0.93), (0.5, 0.094), (0.8, 0.097), (1.6, 0.105), (1.7, 0.096), (1.9, 0.1),
    (2.0, 0.094), (2.6, 0.098), (2.85, 0.095), (3.2, 0.093), (3.5, 0.105), (4.3, 0.097), (4.45, 0.102),
]
KDR_FIT = [(0.0, 0.524), (0.5, 0.65), (1.0, 0.8), (1.5, 0.94), (2.0, 1.07), (2.5, 1.19), (3.0, 1.28),
           (3.45, 1.33), (3.75, 1.325), (4.0, 1.3), (4.5, 1.24), (4.8, 1.205), (5.05, 1.195), (5.3, 1.22),
           (5.6, 1.3), (6.04, 1.44)]

EXPR_TICKS = [0.1, 0.3, 1.0, 3.0]
PSEUDO_TICKS = [0, 2, 4, 6]

GENES = {
    "Wnt2": {"Adult": WNT2_ADULT, "PHx24": WNT2_PHX24, "PHx48": WNT2_PHX48, "PHx96": WNT2_PHX96, "fit": WNT2_FIT},
    "Hgf": {"Adult": HGF_ADULT, "PHx24": HGF_PHX24, "PHx48": HGF_PHX48, "PHx96": HGF_PHX96, "fit": HGF_FIT},
    "Id1": {"Adult": ID1_ADULT, "PHx24": ID1_PHX24, "PHx48": ID1_PHX48, "PHx96": ID1_PHX96, "fit": ID1_FIT},
    "Ackr3": {"Adult": ACKR3_ADULT, "PHx24": ACKR3_PHX24, "PHx48": ACKR3_PHX48, "PHx96": ACKR3_PHX96, "fit": ACKR3_FIT},
    "Flt1": {"Adult": FLT1_ADULT, "PHx24": FLT1_PHX24, "PHx48": FLT1_PHX48, "PHx96": FLT1_PHX96, "fit": FLT1_FIT},
    "Flt4": {"Adult": FLT4_ADULT, "PHx24": FLT4_PHX24, "PHx48": FLT4_PHX48, "PHx96": FLT4_PHX96, "fit": FLT4_FIT},
    "Kdr": {"Adult": KDR_ADULT, "PHx24": KDR_PHX24, "PHx48": KDR_PHX48, "PHx96": KDR_PHX96, "fit": KDR_FIT},
}
CELLS = {"Adult": CELLS_ADULT, "PHx24": CELLS_PHX24, "PHx48": CELLS_PHX48, "PHx96": CELLS_PHX96}

# ---------------------------------------------------------------------------
# helpers
# ---------------------------------------------------------------------------
MINUS_FMT0 = CustomJSTickFormatter(code="return (tick < 0 ? '\u2212' : '') + Math.abs(tick).toFixed(0);")
MINUS_FMT1 = CustomJSTickFormatter(code="return (tick < 0 ? '\u2212' : '') + Math.abs(tick).toFixed(1);")


def make_fig(width, height, xr, yr, borders, axes=True, **kw):
    left, right, top, bottom = borders
    opts = dict(width=width, height=height, x_range=Range1d(*xr), y_range=Range1d(*yr),
                output_backend="svg", toolbar_location=None,
                min_border_left=left, min_border_right=right,
                min_border_top=top, min_border_bottom=bottom)
    if not axes:
        opts.update(x_axis_location=None, y_axis_location=None)
    opts.update(kw)
    p = figure(**opts)
    p.outline_line_color = None
    p.grid.visible = False
    p.background_fill_color = "white"
    p.border_fill_color = "white"
    return p


def style_axes(p, label_size, x_standoff, y_standoff, tick_out):
    for ax in p.axis:
        ax.axis_line_color = "black"
        ax.axis_line_width = 1.2
        ax.major_tick_line_color = "#333333"
        ax.major_tick_line_width = 1.2
        ax.major_tick_in = 0
        ax.major_tick_out = tick_out
        ax.minor_tick_line_color = None
        ax.major_label_text_color = "#4D4D4D"
        ax.major_label_text_font = FONT
        ax.major_label_text_font_size = label_size
        ax.axis_label_text_font = FONT
        ax.axis_label_text_font_style = "normal"
        ax.axis_label_text_color = "black"
    p.xaxis.major_label_standoff = x_standoff
    p.yaxis.major_label_standoff = y_standoff


def screen_label(p, x, y, text, size, style="normal", color="black", align="left"):
    p.add_layout(Label(x=x, y=y, x_units="screen", y_units="screen", text=text,
                       text_font=FONT, text_font_size=size, text_font_style=style,
                       text_color=color, text_align=align, text_baseline="middle"))


def draw_trajectory(p, line_width):
    for xs, ys in ((TRAJ_STEM_X, TRAJ_STEM_Y), (TRAJ_UP_X, TRAJ_UP_Y), (TRAJ_LOW_X, TRAJ_LOW_Y)):
        p.line(xs, ys, line_color="black", line_width=line_width)


def draw_branch(p, node_size, node_font):
    p.scatter(BRANCH_X, BRANCH_Y, size=node_size, color="black")
    p.text(BRANCH_X, BRANCH_Y, text=BRANCH_ID, text_color="white", text_font=value(FONT),
           text_font_size=node_font, text_align="center", text_baseline="middle")


# ---------------------------------------------------------------------------
# Panel A: cells coloured by time point
# ---------------------------------------------------------------------------
TRAJ_XLIM = (-4.21, 2.385)
TRAJ_YLIM = (-1.952, 0.453)

# header strip holding the panel letter and the horizontal legend
pAhead = make_fig(550, 100, (0, 1), (0, 1), (0, 0, 0, 0), axes=False)
head_items = []
for tp in TIME_POINTS:
    r = pAhead.scatter([-5], [-5], size=6.8, fill_color=TP_COLORS[tp], line_color=None)
    head_items.append(LegendItem(label=tp, renderers=[r]))
pAhead.add_layout(Legend(items=head_items, orientation="horizontal", location=(191.5, 24.5),
                         glyph_width=17, glyph_height=21, label_height=21, label_standoff=5,
                         spacing=16, padding=0, margin=0, border_line_color=None,
                         background_fill_alpha=0, label_text_font=FONT,
                         label_text_font_size="17.5px", label_text_color="black"))
screen_label(pAhead, 98, 35.5, "time_point", "17.5px")
screen_label(pAhead, 23.5, 72, "A", "32px", style="bold", align="center")

pA = make_fig(550, 275, TRAJ_XLIM, TRAJ_YLIM, (92, 28, 32, 63))
draw_trajectory(pA, 2.0)
for tp in ["Adult", "PHx24", "PHx96", "PHx48"]:
    xs = [c[0] for c in CELLS[tp]]
    ys = [c[1] for c in CELLS[tp]]
    pA.scatter(xs, ys, size=6.3, fill_color=TP_COLORS[tp], line_color=None)
draw_branch(pA, 15, "11px")
pA.xaxis.ticker = FixedTicker(ticks=[-4, -2, 0, 2])
pA.yaxis.ticker = FixedTicker(ticks=[-1.5, -1.0, -0.5, 0.0])
pA.xaxis.formatter = MINUS_FMT0
pA.yaxis.formatter = MINUS_FMT1
pA.xaxis.axis_label = "Component 1"
pA.yaxis.axis_label = "Component 2"
style_axes(pA, "14px", 2, 2, 4)
pA.xaxis.axis_label_text_font_size = "16px"
pA.yaxis.axis_label_text_font_size = "16px"
pA.xaxis.axis_label_standoff = 10
pA.yaxis.axis_label_standoff = 10
pA.add_layout(Label(x=-2.85, y=-1.23, text="LSECs", text_font=FONT, text_font_size="23px",
                    text_color="#2B4C9F", text_baseline="middle"))

# ---------------------------------------------------------------------------
# Panel B: one trajectory per time point, cells coloured by pseudotime
# ---------------------------------------------------------------------------
PT_LOW, PT_HIGH = 0.0, 6.25


def traj_panel(tp, width, height, xr, yr):
    p = make_fig(width, height, xr, yr, (0, 0, 0, 0), axes=False)
    draw_trajectory(p, 2.2)
    src = ColumnDataSource(dict(x=[c[0] for c in CELLS[tp]], y=[c[1] for c in CELLS[tp]],
                                pt=[c[2] for c in CELLS[tp]]))
    p.scatter("x", "y", source=src, size=6.3, line_color=None,
              fill_color=linear_cmap("pt", Viridis256, PT_LOW, PT_HIGH))
    draw_branch(p, 16, "13px")
    p.add_layout(Label(x=1.74, y=-0.38, text=tp, text_font=FONT, text_font_size="20.5px",
                       text_align="center", text_baseline="middle", text_color="black"))
    return p


B_LEFT_X = (-5.570, 2.958)
B_RIGHT_X = (-4.793, 2.876)
B_TOP_Y = (-1.952, 0.9545)
B_BOTTOM_Y = (-2.1585, 0.4677)
pB1 = traj_panel("Adult", 417, 197, B_LEFT_X, B_TOP_Y)
pB2 = traj_panel("PHx24", 375, 197, B_RIGHT_X, B_TOP_Y)
pB3 = traj_panel("PHx48", 417, 178, B_LEFT_X, B_BOTTOM_Y)
pB4 = traj_panel("PHx96", 375, 178, B_RIGHT_X, B_BOTTOM_Y)
screen_label(pB1, 16.5, 169, "B", "32px", style="bold", align="center")

bar_mapper = LinearColorMapper(palette=viridis(20), low=PT_LOW, high=PT_HIGH)
color_bar = ColorBar(color_mapper=bar_mapper, orientation="horizontal", location=(54, 19),
                     width=139, height=46, padding=0, margin=0,
                     ticker=FixedTicker(ticks=PSEUDO_TICKS), label_standoff=5,
                     major_label_text_font=FONT, major_label_text_font_size="12px",
                     major_label_text_color="black", major_tick_line_color="white",
                     major_tick_line_width=1.2, major_tick_in=8, major_tick_out=0,
                     minor_tick_line_color=None, bar_line_color=None, border_line_color=None,
                     background_fill_alpha=0)
pB4.add_layout(color_bar)
screen_label(pB4, 124.5, 95.7, "Pseudotime", "17.5px", align="center")

# ---------------------------------------------------------------------------
# Panel C: expression of each gene along pseudotime
# ---------------------------------------------------------------------------
Y_LIMITS = {"Wnt2": (0.0753, 6.55), "Hgf": (0.0770, 4.61), "Id1": (0.0744, 6.57),
            "Ackr3": (0.0762, 5.08), "Flt1": (0.0758, 5.92), "Flt4": (0.0754, 6.49),
            "Kdr": (0.0753, 6.59)}
X_LIMITS = (-0.29, 6.38)


def gene_panel(gene, width, height, borders, xlim=X_LIMITS, ylabel=False):
    p = make_fig(width, height, xlim, Y_LIMITS[gene], borders, y_axis_type="log", title=gene)
    data = GENES[gene]
    for tp in ["Adult", "PHx96", "PHx24", "PHx48"]:
        xs = [pt[0] for pt in data[tp]]
        ys = [pt[1] for pt in data[tp]]
        p.scatter(xs, ys, size=6, fill_color=TP_COLORS[tp], line_color=None)
    p.line([f[0] for f in data["fit"]], [f[1] for f in data["fit"]], line_color="black", line_width=1.4)
    p.xaxis.ticker = FixedTicker(ticks=PSEUDO_TICKS)
    p.yaxis.ticker = FixedTicker(ticks=EXPR_TICKS)
    p.yaxis.formatter = CustomJSTickFormatter(code="return tick.toFixed(1);")
    style_axes(p, "12.5px", 3, 4, 5)
    p.title.text_font = FONT
    p.title.text_font_size = "16px"
    p.title.text_font_style = "normal"
    p.title.align = "center"
    p.title.standoff = 6
    if ylabel:
        p.yaxis.axis_label = "Relative Expression"
        p.yaxis.axis_label_text_font_size = "18.5px"
        p.yaxis.axis_label_standoff = 27
    return p


pChead = make_fig(1342, 45, (0, 1), (0, 1), (0, 0, 0, 0), axes=False)
screen_label(pChead, 24.5, 22, "C", "32px", style="bold", align="center")

ROW2_H, ROW3_H = 340, 350
pWnt2 = gene_panel("Wnt2", 418, ROW2_H, (138, 6, 33, 44), ylabel=True)
pHgf = gene_panel("Hgf", 312, ROW2_H, (33, 6, 33, 44))
pId1 = gene_panel("Id1", 312, ROW2_H, (32, 6, 33, 44))

# stand-alone legend for the expression panels
pLeg = make_fig(300, ROW2_H, (0, 1), (0, 1), (0, 0, 33, 44), axes=False)
leg_items = []
for tp in TIME_POINTS:
    r = pLeg.scatter([-5], [-5], size=6, fill_color=TP_COLORS[tp], line_color=None)
    leg_items.append(LegendItem(label=tp, renderers=[r]))
pLeg.add_layout(Legend(items=leg_items, orientation="vertical", location=(114.5, 32.9),
                       glyph_width=15, glyph_height=23, label_height=23, label_standoff=25,
                       spacing=16, padding=0, margin=0, border_line_color=None,
                       background_fill_alpha=0, label_text_font=FONT,
                       label_text_font_size="20px", label_text_color="black"))
screen_label(pLeg, 104.7, 203.7, "time_point", "23px")

pAckr3 = gene_panel("Ackr3", 418, ROW3_H, (138, 6, 58, 29), ylabel=True)
pFlt1 = gene_panel("Flt1", 312, ROW3_H, (33, 6, 58, 29))
pFlt4 = gene_panel("Flt4", 312, ROW3_H, (32, 6, 58, 29))
pKdr = gene_panel("Kdr", 300, ROW3_H, (31, 0, 58, 29), xlim=(-0.30, 6.25))

pAxis = make_fig(1342, 34, (0, 1), (0, 1), (0, 0, 0, 0), axes=False)
screen_label(pAxis, 747, 11, "Pseudo\u2212time", "19px", align="center")

layout = column(
    row(column(row(pAhead), pA), column(row(pB1, pB2), row(pB3, pB4))),
    pChead,
    row(pWnt2, pHgf, pId1, pLeg),
    row(pAckr3, pFlt1, pFlt4, pKdr),
    pAxis,
)

open("out.html", "w").write(file_html(layout, INLINE, title="LSEC pseudotime"))
